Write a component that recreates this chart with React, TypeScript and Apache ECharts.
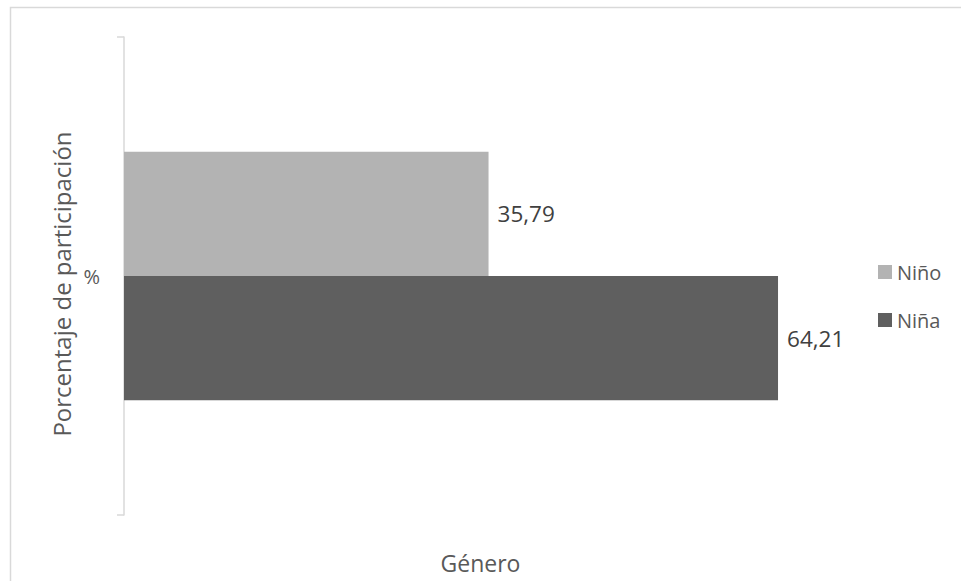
import React, { useEffect, useRef } from "react";
import * as echarts from "echarts";

const categories = ["%"];
const seriesNames = ["Niño", "Niña"];
const ninoValues = [35.79];
const ninaValues = [64.21];
const xAxisTitle = "Género";
const yAxisTitle = "Porcentaje de participación";

const FONT = "'Open Sans', 'Noto Sans', sans-serif";

export default function App() {
  const ref = useRef<HTMLDivElement>(null);
  useEffect(() => {
    if (!ref.current) return;
    const chart = echarts.init(ref.current, null, { renderer: "svg" });
    const fmt = (v: number) => v.toFixed(2).replace(".", ",");
    const labelStyle = {
      show: true,
      position: "right",
      distance: 9,
      fontSize: 22.5,
      color: "#404040",
      fontFamily: FONT,
      formatter: (p: any) => fmt(p.value),
    };
    chart.setOption({
      animation: false,
      backgroundColor: "#ffffff",
      textStyle: { fontFamily: FONT },
      graphic: [
        {
          type: "rect",
          shape: { x: 10.5, y: 7.5, width: 1200, height: 1200 },
          style: { fill: "none", stroke: "#d9d9d9", lineWidth: 1.5 },
          silent: true,
        },
        {
          type: "text",
          x: 61,
          y: 284,
          rotation: Math.PI / 2,
          silent: true,
          style: {
            text: yAxisTitle,
            fontSize: 24,
            fontFamily: FONT,
            fill: "#595959",
            align: "center",
            verticalAlign: "middle",
          },
        },
      ],
      grid: { left: 124, top: 37, width: 713, height: 478 },
      legend: {
        orient: "vertical",
        left: 873,
        top: 257,
        itemWidth: 14,
        itemHeight: 14,
        itemGap: 28,
        icon: "rect",
        textStyle: { fontSize: 20, color: "#595959", fontFamily: FONT, lineHeight: 14 },
        data: seriesNames,
      },
      xAxis: {
        type: "value",
        min: 0,
        max: 70,
        axisLine: { show: false },
        axisTick: { show: false },
        axisLabel: { show: false },
        splitLine: { show: false },
        name: xAxisTitle,
        nameLocation: "middle",
        nameGap: 36,
        nameTextStyle: { fontSize: 23, color: "#595959", fontFamily: FONT },
      },
      yAxis: {
        type: "category",
        data: categories,
        axisLine: { show: true, lineStyle: { color: "#d9d9d9", width: 1.5 } },
        axisTick: { show: true, length: 7, lineStyle: { color: "#d9d9d9", width: 1.5 } },
        axisLabel: { fontSize: 20, color: "#595959", margin: 24, fontFamily: FONT },
      },
      series: [
        {
          name: seriesNames[0],
          type: "bar",
          data: ninoValues,
          barGap: "0%",
          barCategoryGap: "48%",
          itemStyle: { color: "#b3b3b3" },
          label: labelStyle,
        },
        {
          name: seriesNames[1],
          type: "bar",
          data: ninaValues,
          barGap: "0%",
          barCategoryGap: "48%",
          itemStyle: { color: "#5f5f5f" },
          label: labelStyle,
        },
      ],
    });
    return () => chart.dispose();
  }, []);
  return (
    <div
      ref={ref}
      style={{ position: "absolute", left: 0, top: 0, width: 961, height: 581 }}
    />
  );
}
